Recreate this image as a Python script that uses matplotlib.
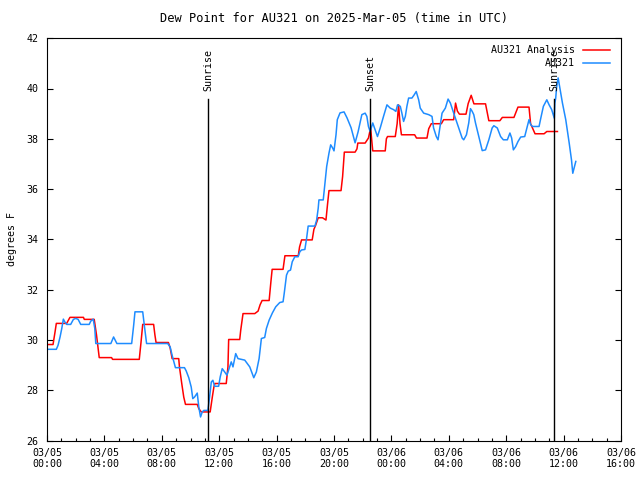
import numpy as np
import pandas as pd
import matplotlib
matplotlib.use('Agg')
import matplotlib.pyplot as plt
import matplotlib.dates as mdates
import matplotlib.transforms as mtransforms

plt.rcParams['font.family'] = 'DejaVu Sans Mono'
plt.rcParams['font.size'] = 7.2

base = pd.Timestamp('2025-03-05 00:00')

# observed dew point (hours since 03/05 00:00 UTC, deg F)
obs_hours = [0.0, 0.65, 0.77, 0.91, 1.03, 1.14, 1.24, 1.37, 1.65, 1.84, 2.0, 2.17, 2.35, 2.94,
             3.05, 3.22, 3.33, 3.4, 4.45, 4.64, 4.87, 5.9, 6.04, 6.13, 6.67, 6.78, 6.94, 8.41,
             8.58, 8.72, 8.81, 8.95, 9.58, 9.7, 9.88, 10.05, 10.16, 10.28, 10.47, 10.58, 10.7,
             10.82, 10.93, 11.21, 11.33, 11.45, 11.56, 11.68, 11.96, 12.07, 12.21, 12.38, 12.54,
             12.73, 12.84, 12.96, 13.15, 13.31, 13.78, 14.13, 14.41, 14.59, 14.78, 14.94, 15.17,
             15.29, 15.48, 15.71, 15.94, 16.22, 16.45, 16.53, 16.69, 16.81, 16.97, 17.09, 17.27,
             17.5, 17.62, 17.74, 17.97, 18.09, 18.2, 18.67, 18.79, 18.9, 18.95, 19.25, 19.37,
             19.49, 19.65, 19.77, 19.91, 20.0, 20.14, 20.23, 20.42, 20.7, 20.91, 21.19, 21.47,
             21.68, 21.94, 22.17, 22.29, 22.4, 22.52, 22.7, 23.03, 23.22, 23.45, 23.69, 23.92,
             24.15, 24.31, 24.43, 24.62, 24.73, 24.85, 24.97, 25.08, 25.2, 25.43, 25.59, 25.73,
             25.9, 26.01, 26.25, 26.6, 26.83, 26.94, 27.13, 27.25, 27.41, 27.53, 27.76, 27.95,
             28.11, 28.3, 28.46, 28.69, 28.93, 29.04, 29.23, 29.39, 29.51, 29.63, 29.74, 29.86,
             30.09, 30.33, 30.56, 30.79, 31.02, 31.14, 31.38, 31.61, 31.8, 32.08, 32.26, 32.38,
             32.5, 32.66, 32.82, 33.01, 33.29, 33.47, 33.59, 33.71, 33.83, 34.29, 34.41, 34.59,
             34.83, 34.99, 35.17, 35.35, 35.39, 35.45, 35.52, 35.62, 35.76, 35.92, 36.15, 36.39,
             36.55, 36.64, 36.73, 36.85]
obs_dewpt = [29.63, 29.63, 29.79, 30.12, 30.46, 30.83, 30.72, 30.62, 30.62, 30.82, 30.86, 30.82,
             30.62, 30.62, 30.75, 30.83, 30.46, 29.86, 29.86, 30.12, 29.86, 29.86, 30.59, 31.12,
             31.12, 30.59, 29.86, 29.86, 29.73, 29.39, 29.2, 28.9, 28.9, 28.77, 28.5, 28.13,
             27.67, 27.73, 27.89, 27.33, 26.94, 27.14, 27.2, 27.2, 27.73, 28.33, 28.4, 28.16,
             28.16, 28.53, 28.86, 28.73, 28.6, 28.93, 29.13, 28.93, 29.46, 29.26, 29.2, 28.93,
             28.5, 28.73, 29.26, 30.06, 30.1, 30.46, 30.79, 31.08, 31.32, 31.49, 31.52, 31.85,
             32.58, 32.74, 32.78, 33.11, 33.31, 33.31, 33.51, 33.58, 33.6, 34.04, 34.53, 34.53,
             34.77, 35.24, 35.57, 35.57, 36.23, 36.9, 37.43, 37.76, 37.63, 37.52, 38.16, 38.76,
             39.03, 39.07, 38.83, 38.44, 37.84, 38.28, 38.96, 39.02, 38.89, 38.49, 38.29, 38.63,
             38.09, 38.43, 38.89, 39.35, 39.22, 39.16, 39.09, 39.35, 39.29, 39.02, 38.69, 38.89,
             39.29, 39.62, 39.62, 39.75, 39.88, 39.55, 39.22, 39.02, 38.96, 38.89, 38.43, 38.09,
             37.96, 38.56, 39.02, 39.22, 39.58, 39.42, 39.09, 38.82, 38.43, 38.03, 37.96, 38.16,
             38.63, 39.2, 39.09, 38.96, 38.63, 38.09, 37.53, 37.56, 37.96, 38.43, 38.52, 38.43,
             38.09, 37.96, 37.96, 38.23, 38.03, 37.56, 37.69, 37.89, 38.07, 38.09, 38.49, 38.76,
             38.56, 38.49, 38.49, 38.82, 39.29, 39.55, 39.35, 39.16, 38.82, 39.42, 39.62, 40.08,
             40.42, 39.95, 39.42, 38.76, 37.83, 37.16, 36.63, 36.83, 37.1]

# analysis dew point
ana_hours = [0.0, 0.42, 0.56, 0.65, 1.37, 1.6, 2.54, 2.6, 3.29, 3.45, 3.64, 4.5, 4.57, 6.43,
             6.55, 6.67, 7.43, 7.52, 7.6, 8.46, 8.58, 8.72, 9.18, 9.23, 9.39, 9.53, 9.65, 10.47,
             10.58, 10.75, 11.37, 11.52, 11.63, 11.7, 12.49, 12.61, 12.66, 13.43, 13.5, 13.66,
             14.48, 14.71, 14.85, 14.99, 15.48, 15.6, 15.69, 16.45, 16.58, 17.51, 17.6, 17.74,
             18.48, 18.6, 18.72, 18.9, 19.2, 19.44, 19.55, 19.65, 20.49, 20.6, 20.72, 21.47,
             21.6, 21.66, 22.17, 22.4, 22.55, 22.7, 23.57, 23.65, 23.73, 24.27, 24.4, 24.5, 24.6,
             24.7, 25.62, 25.75, 26.48, 26.6, 26.78, 27.48, 27.64, 28.34, 28.47, 28.6, 28.74,
             29.2, 29.35, 29.56, 29.75, 30.56, 30.79, 31.56, 31.73, 32.54, 32.82, 33.59, 33.7,
             34.01, 34.64, 34.83, 35.57]
ana_dewpt = [29.82, 29.82, 30.32, 30.66, 30.66, 30.9, 30.9, 30.82, 30.82, 30.2, 29.3, 29.3,
             29.23, 29.23, 29.9, 30.62, 30.62, 30.2, 29.9, 29.9, 29.69, 29.26, 29.26, 28.93,
             28.27, 27.73, 27.44, 27.44, 27.27, 27.14, 27.14, 27.73, 28.13, 28.27, 28.27, 28.93,
             30.02, 30.02, 30.39, 31.05, 31.05, 31.15, 31.4, 31.57, 31.57, 32.3, 32.81, 32.81,
             33.35, 33.35, 33.7, 33.98, 33.98, 34.4, 34.56, 34.86, 34.86, 34.77, 35.4, 35.94,
             35.94, 36.5, 37.47, 37.47, 37.6, 37.83, 37.83, 38.03, 38.43, 37.52, 37.52, 38.0,
             38.09, 38.09, 38.6, 39.35, 38.6, 38.16, 38.16, 38.03, 38.03, 38.4, 38.6, 38.6,
             38.76, 38.76, 39.42, 39.1, 38.98, 38.98, 39.4, 39.73, 39.39, 39.39, 38.72, 38.72,
             38.85, 38.85, 39.26, 39.26, 38.6, 38.2, 38.2, 38.29, 38.29]

sun_times = ['2025-03-05 11:13', '2025-03-05 22:32', '2025-03-06 11:20']
sun_labels = ['Sunrise', 'Sunset', 'Sunrise']

obs_t = base + pd.to_timedelta(obs_hours, unit='h')
ana_t = base + pd.to_timedelta(ana_hours, unit='h')

fig = plt.figure(figsize=(6.4, 4.8), dpi=100)
ax = fig.add_axes([47/640, 1-440.6/480, 574/640, 402.4/480])

ax.plot(ana_t, ana_dewpt, color='#ff0000', lw=1.1)
ax.plot(obs_t, obs_dewpt, color='#1e8cff', lw=1.1)

trans = mtransforms.blended_transform_factory(ax.transData, ax.transAxes)
for st, lab in zip(sun_times, sun_labels):
    t = pd.Timestamp(st)
    ax.plot([t, t], [0, 0.85], color='black', lw=1.0, transform=trans)
    ax.text(t, 0.87, lab, rotation=90, ha='center', va='bottom', transform=trans)

# legend drawn gnuplot style (text right of key sample)
ax.text(0.92, 0.9707, 'AU321 Analysis', ha='right', va='center', transform=ax.transAxes)
ax.plot([0.934, 0.981], [0.9707, 0.9707], color='#ff0000', lw=1.1, transform=ax.transAxes)
ax.text(0.92, 0.9384, 'AU321', ha='right', va='center', transform=ax.transAxes)
ax.plot([0.934, 0.981], [0.9384, 0.9384], color='#1e8cff', lw=1.1, transform=ax.transAxes)

ax.set_xlim(pd.Timestamp('2025-03-05 00:00'), pd.Timestamp('2025-03-06 16:00'))
ax.set_ylim(26, 42)
ax.set_yticks(np.arange(26, 43, 2))
ax.xaxis.set_major_locator(mdates.HourLocator(byhour=range(0, 24, 4)))
ax.xaxis.set_minor_locator(mdates.HourLocator())
ax.xaxis.set_major_formatter(mdates.DateFormatter('%m/%d\n%H:%M'))
ax.tick_params(axis='both', which='major', direction='in', length=4.5, width=0.8, colors='black')
ax.tick_params(axis='x', which='minor', direction='in', length=2.2, width=0.8)
ax.tick_params(axis='y', right=True, left=True)
ax.tick_params(axis='x', top=False, pad=5)
ax.tick_params(axis='y', pad=6)
for s in ax.spines.values():
    s.set_linewidth(0.8)

ax.set_ylabel('degrees F', labelpad=7)
ax.set_title('Dew Point for AU321 on 2025-Mar-05 (time in UTC)', pad=12)

fig.savefig('out.png', dpi=100)
